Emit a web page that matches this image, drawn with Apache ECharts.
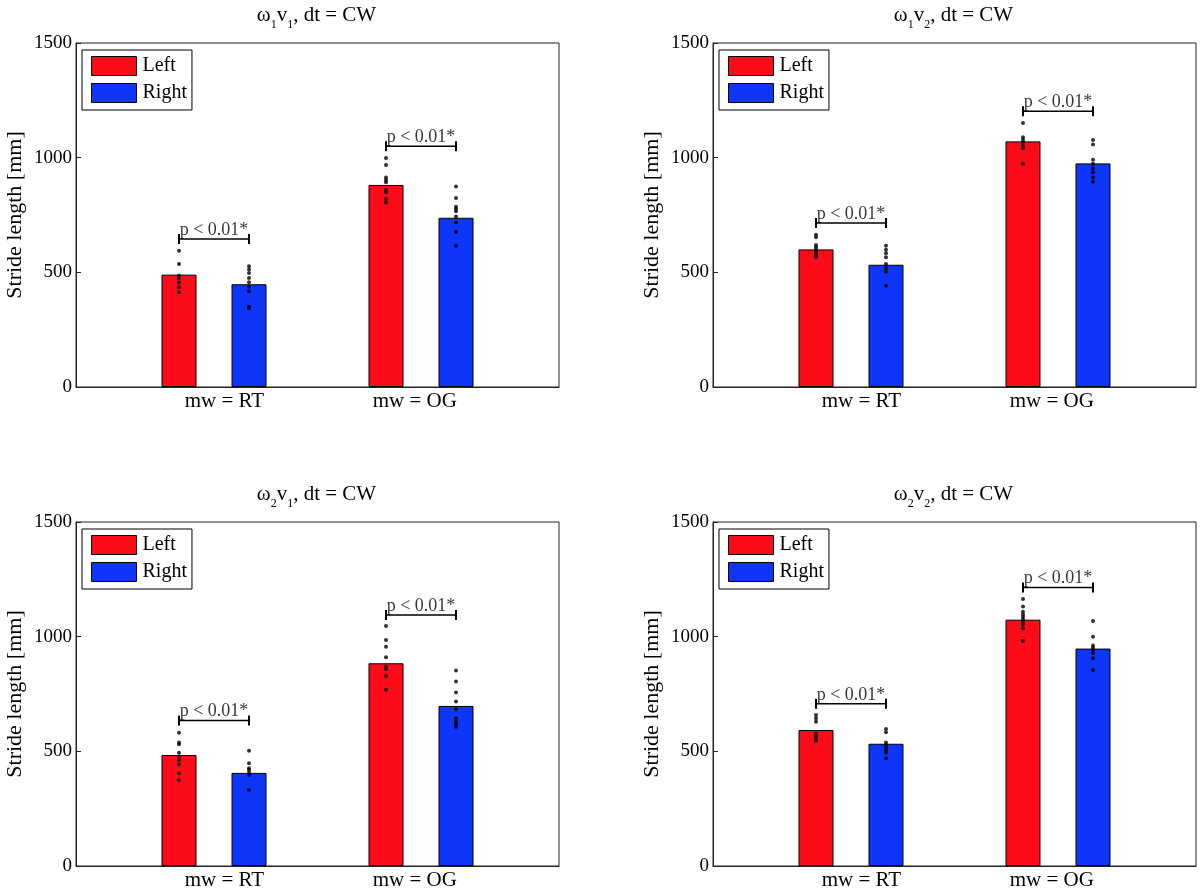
<!DOCTYPE html>
<html>
<head>
<meta charset="utf-8">
<script src="https://cdn.jsdelivr.net/npm/echarts@6/dist/echarts.min.js"></script>
<style>html,body{margin:0;padding:0;background:#fff}#c{width:1200px;height:892px}</style>
</head>
<body>
<div id="c"></div>
<script>
// ---- data ----
const categories = ['mw = RT', 'mw = OG'];
const labelPos = [1.05, 1.97];          // x-tick label positions
const yTicks = [0, 500, 1000, 1500];
const pText = 'p < 0.01*';

// top-left: ω1 v1
const tlLeft = [490, 881];
const tlRight = [448, 738];
const tlLeftDots = [[594, 536, 485, 474, 456, 435, 413], [999, 968, 914, 903, 893, 859, 849, 820, 805]];
const tlRightDots = [[526, 512, 497, 475, 457, 437, 417, 350, 343], [874, 824, 786, 776, 766, 744, 718, 677, 616]];
const tlBrackets = [645, 1050];

// top-right: ω1 v2
const trLeft = [600, 1071];
const trRight = [533, 975];
const trLeftDots = [[664, 653, 619, 609, 599, 587, 577, 566], [1151, 1089, 1077, 1067, 1052, 1041, 973]];
const trRightDots = [[616, 599, 583, 566, 536, 519, 503, 442], [1077, 1057, 991, 973, 954, 936, 914, 895]];
const trBrackets = [715, 1202];

// bottom-left: ω2 v1
const blLeft = [484, 884];
const blRight = [406, 698];
const blLeftDots = [[581, 538, 531, 494, 477, 462, 444, 404, 375], [1047, 986, 956, 910, 869, 859, 829, 768]];
const blRightDots = [[502, 448, 426, 419, 407, 397, 331], [852, 804, 757, 717, 683, 644, 629, 618, 607]];
const blBrackets = [634, 1095];

// bottom-right: ω2 v2
const brLeft = [593, 1074];
const brRight = [533, 948];
const brLeftDots = [[658, 644, 629, 579, 568, 557, 545], [1164, 1131, 1109, 1097, 1087, 1076, 1064, 1054, 1037, 982]];
const brRightDots = [[597, 583, 538, 526, 516, 506, 494, 470], [1068, 1000, 961, 953, 942, 928, 906, 855]];
const brBrackets = [707, 1214];

const titleSubs = [['1', '1'], ['1', '2'], ['2', '1'], ['2', '2']];

// ---- layout ----
const FONT = '"Liberation Serif", "Times New Roman", serif';
const RED = '#fc0c18';
const BLUE = '#0f35fb';
const GW = 483, GH = 344;
const gridPos = [[76, 43], [713, 43], [76, 522], [713, 522]];
const XMIN = 1 / 3, XMAX = 8 / 3;
const BARW = 35;
const unitPx = GW / (XMAX - XMIN);
const off = BARW / unitPx;

const panels = [
  { L: tlLeft, R: tlRight, LD: tlLeftDots, RD: tlRightDots, B: tlBrackets },
  { L: trLeft, R: trRight, LD: trLeftDots, RD: trRightDots, B: trBrackets },
  { L: blLeft, R: blRight, LD: blLeftDots, RD: blRightDots, B: blBrackets },
  { L: brLeft, R: brRight, LD: brLeftDots, RD: brRightDots, B: brBrackets }
];

const grid = [], xAxis = [], yAxis = [], series = [], title = [], legend = [];

panels.forEach((p, i) => {
  const [gl, gt] = gridPos[i];
  grid.push({ left: gl, top: gt, width: GW, height: GH, show: true, borderColor: '#222', borderWidth: 1, backgroundColor: '#fff' });
  xAxis.push({
    gridIndex: i, type: 'value', min: XMIN, max: XMAX,
    axisLine: { show: true, onZero: false, lineStyle: { color: '#222', width: 1 } },
    axisTick: { show: false }, splitLine: { show: false },
    axisLabel: {
      customValues: labelPos, margin: 4, fontSize: 21, fontFamily: FONT, color: '#000',
      formatter: v => { const k = labelPos.findIndex(q => Math.abs(q - v) < 1e-6); return k >= 0 ? categories[k] : ''; }
    }
  });
  yAxis.push({
    gridIndex: i, type: 'value', min: 0, max: 1500, interval: 500,
    name: 'Stride length [mm]', nameLocation: 'middle', nameGap: 50,
    nameTextStyle: { fontSize: 22, fontFamily: FONT, color: '#000' },
    axisLine: { show: true, lineStyle: { color: '#222', width: 1 } },
    axisTick: { show: true, inside: true, length: 5, lineStyle: { color: '#222' } },
    splitLine: { show: false },
    axisLabel: { margin: 4, fontSize: 19, fontFamily: FONT, color: '#000',
      customValues: yTicks, formatter: v => String(v) }
  });
  const s = titleSubs[i];
  title.push({
    text: '{m|ω}{s|' + s[0] + '}{m|v}{s|' + s[1] + '}{m|, dt = CW}',
    left: gl + GW / 2 - 6, top: gt - 43, textAlign: 'center',
    textStyle: {
      fontWeight: 'normal',
      rich: {
        m: { fontSize: 21, fontWeight: 'normal', fontFamily: FONT, color: '#000', verticalAlign: 'top', lineHeight: 22 },
        s: { fontSize: 12, fontWeight: 'normal', fontFamily: FONT, color: '#000', verticalAlign: 'top', lineHeight: 13, padding: [14, 0, 0, 0] }
      }
    }
  });
  legend.push({
    left: gl + 6, top: gt + 7, orient: 'vertical', data: ['Left', 'Right'],
    icon: 'rect', itemWidth: 45, itemHeight: 19, itemGap: 7,
    borderColor: '#000', borderWidth: 1, backgroundColor: '#fff',
    padding: [6, 5, 7, 9],
    itemStyle: { borderColor: '#000', borderWidth: 1 },
    textStyle: { fontSize: 20, fontFamily: FONT, color: '#000', padding: [0, 0, 0, 1] },
    selectedMode: false
  });
  series.push({
    type: 'bar', name: 'Left', xAxisIndex: i, yAxisIndex: i,
    data: p.L.map((v, g) => [g + 1, v]), barWidth: BARW, barGap: '100%',
    itemStyle: { color: RED, borderColor: '#000', borderWidth: 1 }
  });
  series.push({
    type: 'bar', name: 'Right', xAxisIndex: i, yAxisIndex: i,
    data: p.R.map((v, g) => [g + 1, v]), barWidth: BARW, barGap: '100%',
    itemStyle: { color: BLUE, borderColor: '#000', borderWidth: 1 }
  });
  const dots = [];
  p.LD.forEach((arr, g) => arr.forEach(v => dots.push([g + 1 - off, v])));
  p.RD.forEach((arr, g) => arr.forEach(v => dots.push([g + 1 + off, v])));
  series.push({
    type: 'scatter', xAxisIndex: i, yAxisIndex: i, data: dots, symbolSize: 4,
    itemStyle: { color: '#000' }, z: 5, silent: true
  });
  p.B.forEach((v, g) => {
    series.push({
      type: 'line', xAxisIndex: i, yAxisIndex: i,
      data: [[g + 1 - off, v], [g + 1 + off, v]],
      symbol: 'rect', symbolSize: [2, 10], showSymbol: true,
      lineStyle: { color: '#000', width: 1.5 }, itemStyle: { color: '#000' },
      z: 6, silent: true, animation: false
    });
  });
  series.push({
    type: 'scatter', xAxisIndex: i, yAxisIndex: i,
    data: p.B.map((v, g) => [g + 1, v]), symbolSize: 0,
    label: { show: true, position: 'top', distance: 0, formatter: pText, fontSize: 18, fontFamily: FONT, color: '#000' },
    z: 6, silent: true
  });
});

const chart = echarts.init(document.getElementById('c'));
chart.setOption({ animation: false, backgroundColor: '#fff', title, legend, grid, xAxis, yAxis, series });
</script>
</body>
</html>
